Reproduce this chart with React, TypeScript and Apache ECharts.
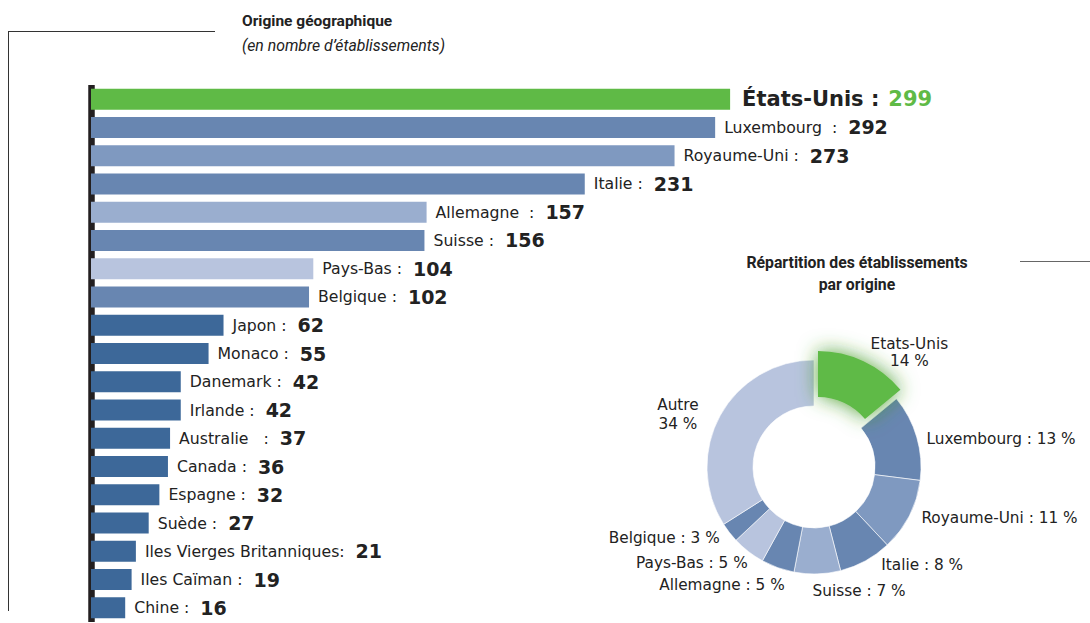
import React, { useEffect, useRef } from "react";
import * as echarts from "echarts";

const categories = [
  "États-Unis", "Luxembourg", "Royaume-Uni", "Italie", "Allemagne", "Suisse",
  "Pays-Bas", "Belgique", "Japon", "Monaco", "Danemark", "Irlande", "Australie",
  "Canada", "Espagne", "Suède", "Iles Vierges Britanniques", "Iles Caïman", "Chine",
];
const values = [299, 292, 273, 231, 157, 156, 104, 102, 62, 55, 42, 42, 37, 36, 32, 27, 21, 19, 16];
const barLabels = [
  "États-Unis :", "Luxembourg  :", "Royaume-Uni :", "Italie :", "Allemagne  :", "Suisse :",
  "Pays-Bas :", "Belgique :", "Japon :", "Monaco :", "Danemark :", "Irlande :", "Australie   :",
  "Canada :", "Espagne :", "Suède :", "Iles Vierges Britanniques:", "Iles Caïman :", "Chine :",
];
const barColors = [
  "#5fba46", "#6886b1", "#7f99c0", "#6886b1", "#9aaecf", "#6886b1", "#b8c4de", "#6886b1",
  "#3d6899", "#3d6899", "#3d6899", "#3d6899", "#3d6899", "#3d6899", "#3d6899", "#3d6899",
  "#3d6899", "#3d6899", "#3d6899",
];

const pieNames = ["Etats-Unis", "Luxembourg", "Royaume-Uni", "Italie", "Suisse", "Allemagne", "Pays-Bas", "Belgique", "Autre"];
const piePct = [14, 13, 11, 8, 7, 5, 5, 3, 34];
const pieColors = ["#5fba46", "#6886b1", "#7f99c0", "#6886b1", "#9aaecf", "#6886b1", "#b8c4de", "#6886b1", "#b8c4de"];
// small label nudges [dx, dy] per pie slice
const pieLabelNudge = [[0, 0], [0, 4], [2, 0], [4, -1], [-14, 8], [18, 12], [12, 7], [4, 2], [0, 2]];

const LABEL_FONT = "'DejaVu Sans', sans-serif";
const TITLE_FONT = "Roboto, 'Noto Sans', sans-serif";

export default function App() {
  const ref = useRef<HTMLDivElement>(null);
  useEffect(() => {
    if (!ref.current) return;
    const chart = echarts.init(ref.current, undefined, { renderer: "svg" });
    const barData = values.map((v, i) => ({
      value: v,
      itemStyle: { color: barColors[i] },
      label: {
        formatter: i === 0 ? `{u|${barLabels[i]}}{g|${v}}` : `{n|${barLabels[i]}}{v|${v}}`,
      },
    }));
    const pieData = pieNames.map((n, i) => ({
      name: n,
      value: piePct[i],
      itemStyle: { color: i === 0 ? "rgba(0,0,0,0)" : pieColors[i] },
      label: { show: i !== 0 },
    }));
    chart.setOption({
      animation: false,
      grid: { left: 91, right: 144, top: 85, bottom: 1, containLabel: false },
      xAxis: { type: "value", min: 0, max: 400, show: false },
      yAxis: {
        type: "category",
        data: categories,
        inverse: true,
        offset: 3.3,
        axisLine: { show: true, lineStyle: { color: "#231f20", width: 6.5, cap: "butt" } },
        axisTick: { show: false },
        axisLabel: { show: false },
      },
      graphic: [
        { type: "line", shape: { x1: 8, y1: 31.5, x2: 215, y2: 31.5 }, style: { stroke: "#333", lineWidth: 1 }, silent: true },
        { type: "line", shape: { x1: 8.5, y1: 31, x2: 8.5, y2: 611 }, style: { stroke: "#333", lineWidth: 1 }, silent: true },
        { type: "line", shape: { x1: 1020, y1: 261.5, x2: 1090, y2: 261.5 }, style: { stroke: "#666", lineWidth: 1 }, silent: true },
        {
          type: "text", x: 242, y: 21,
          style: { text: "Origine géographique", font: `bold 15.5px ${TITLE_FONT}`, fill: "#222", textVerticalAlign: "middle" },
          silent: true,
        },
        {
          type: "text", x: 242, y: 45,
          style: { text: "(en nombre d’établissements)", font: `italic 15.8px ${TITLE_FONT}`, fill: "#222", textVerticalAlign: "middle" },
          silent: true,
        },
        {
          type: "text", x: 857, y: 262,
          style: { text: "Répartition des établissements", font: `bold 15.8px ${TITLE_FONT}`, fill: "#222", textAlign: "center", textVerticalAlign: "middle" },
          silent: true,
        },
        {
          type: "text", x: 857, y: 284,
          style: { text: "par origine", font: `bold 15.8px ${TITLE_FONT}`, fill: "#222", textAlign: "center", textVerticalAlign: "middle" },
          silent: true,
        },
      ],
      series: [
        {
          type: "bar",
          data: barData,
          barWidth: 21,
          silent: true,
          label: {
            show: true,
            position: "right",
            distance: 9,
            rich: {
              n: { fontFamily: LABEL_FONT, fontSize: 15.7, color: "#222" },
              v: { fontFamily: LABEL_FONT, fontSize: 19, fontWeight: "bold", color: "#222", padding: [0, 0, 0, 11] },
              u: { fontFamily: LABEL_FONT, fontSize: 21, fontWeight: "bold", color: "#222", padding: [0, 0, 0, 3] },
              g: { fontFamily: LABEL_FONT, fontSize: 21, fontWeight: "bold", color: "#5fba46", padding: [0, 0, 0, 9] },
            },
          },
        },
        {
          type: "pie",
          center: [814, 467],
          radius: [61, 107],
          startAngle: 90,
          clockwise: true,
          silent: true,
          data: pieData,
          itemStyle: { borderColor: "#fff", borderWidth: 0.6 },
          labelLine: { show: false, length: 6, length2: 4 },
          labelLayout: (p: any) => {
            const d = pieLabelNudge[p.dataIndex] || [0, 0];
            return { dx: d[0], dy: d[1] };
          },
          label: {
            position: "outside",
            fontFamily: LABEL_FONT,
            fontSize: 15.3,
            color: "#222",
            formatter: (p: any) =>
              p.name === "Autre" ? `{c|${p.name}}\n{c|${p.value} %}` : `${p.name} : ${p.value} %`,
            rich: {
              c: { fontFamily: LABEL_FONT, fontSize: 15.3, color: "#222", width: 56, align: "center", lineHeight: 19 },
            },
          },
        },
        {
          type: "pie",
          center: [818, 458],
          radius: [61, 107],
          startAngle: 90,
          clockwise: true,
          silent: true,
          data: [
            {
              name: pieNames[0],
              value: piePct[0],
              itemStyle: { color: pieColors[0], shadowBlur: 20, shadowColor: "rgba(60,150,30,0.85)" },
              label: { show: true },
            },
            {
              name: "",
              value: 100 - piePct[0],
              itemStyle: { color: "rgba(0,0,0,0)" },
              label: { show: false },
            },
          ],
          labelLine: { show: false, length: 2, length2: 2 },
          labelLayout: (p: any) => ({ dx: -2, dy: -7 }),
          label: {
            position: "outside",
            formatter: (p: any) => `{c|${p.name}}\n{c|${p.value} %}`,
            rich: {
              c: { fontFamily: LABEL_FONT, fontSize: 15.3, color: "#222", width: 80, align: "center", lineHeight: 17 },
            },
          },
        },
      ],
    });
    return () => chart.dispose();
  }, []);
  return (
    <div
      ref={ref}
      style={{ position: "fixed", left: 0, top: 0, width: 1090, height: 623, background: "#fff" }}
    />
  );
}
